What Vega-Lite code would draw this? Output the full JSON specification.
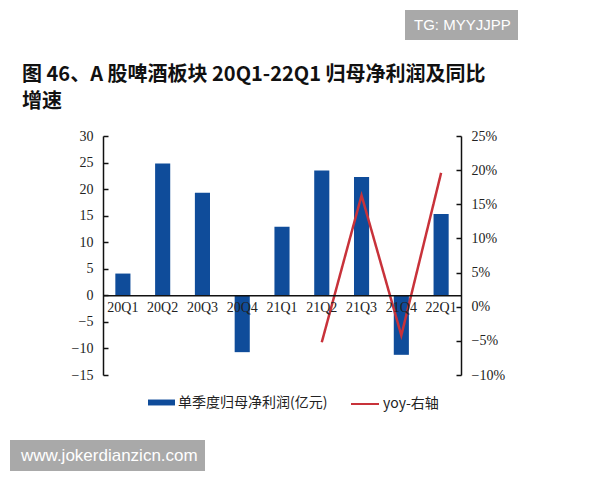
{
  "$schema": "https://vega.github.io/schema/vega-lite/v6.json",
  "autosize": "none",
  "width": 358,
  "height": 239,
  "padding": {"left": 103, "top": 136, "right": 139, "bottom": 105},
  "background": "white",
  "title": {
    "text": ["图 46、A 股啤酒板块 20Q1-22Q1 归母净利润及同比", "增速"],
    "anchor": "start",
    "frame": "group",
    "dx": -81,
    "dy": 120,
    "offset": 18,
    "font": "Noto Sans CJK SC",
    "fontSize": 20,
    "fontWeight": "bold",
    "lineHeight": 27,
    "color": "#111111"
  },
  "data": {
    "values": [
      {"quarter": "20Q1", "profit": 4.1, "yoy": null},
      {"quarter": "20Q2", "profit": 24.8, "yoy": null},
      {"quarter": "20Q3", "profit": 19.3, "yoy": null},
      {"quarter": "20Q4", "profit": -10.7, "yoy": null},
      {"quarter": "21Q1", "profit": 12.9, "yoy": null},
      {"quarter": "21Q2", "profit": 23.5, "yoy": -0.052},
      {"quarter": "21Q3", "profit": 22.3, "yoy": 0.163},
      {"quarter": "21Q4", "profit": -11.2, "yoy": -0.042},
      {"quarter": "22Q1", "profit": 15.3, "yoy": 0.196}
    ]
  },
  "encoding": {
    "x": {
      "field": "quarter",
      "type": "ordinal",
      "sort": null,
      "scale": {"paddingInner": 0, "paddingOuter": 0},
      "axis": {
        "title": null,
        "offset": -79.7,
        "zindex": 1,
        "labelAngle": 0,
        "labelFont": "Liberation Serif",
        "labelFontSize": 14,
        "labelColor": "#222222",
        "labelPadding": 5,
        "ticks": false,
        "domainColor": "#111111",
        "domainWidth": 1.5
      }
    }
  },
  "layer": [
    {
      "mark": {"type": "bar", "width": {"band": 0.38}},
      "encoding": {
        "y": {
          "field": "profit",
          "type": "quantitative",
          "scale": {"domain": [-15, 30], "nice": false},
          "axis": {
            "title": null,
            "values": [-15, -10, -5, 0, 5, 10, 15, 20, 25, 30],
            "grid": false,
            "labelFont": "Liberation Serif",
            "labelFontSize": 14,
            "labelColor": "#222222",
            "labelPadding": 15,
            "tickSize": -5,
            "tickColor": "#111111",
            "tickWidth": 1.5,
            "domainColor": "#111111",
            "domainWidth": 1.5
          }
        },
        "fill": {
          "datum": "单季度归母净利润(亿元)",
          "scale": {"range": ["#0f4c9a"]},
          "legend": {
            "title": null,
            "orient": "none",
            "legendX": 45,
            "legendY": 253,
            "symbolType": "M-1,-0.22H1V0.22H-1Z",
            "symbolSize": 729,
            "symbolStrokeWidth": 0,
            "labelFont": "Noto Sans CJK SC",
            "labelFontSize": 14,
            "labelColor": "#222222",
            "labelOffset": 3
          }
        },
        "opacity": {
          "datum": "www.jokerdianzicn.com",
          "scale": {"range": [1]},
          "legend": {
            "title": null,
            "orient": "none",
            "legendX": -93,
            "legendY": 304,
            "fillColor": "#a9a9a9",
            "padding": 7,
            "cornerRadius": 0,
            "symbolSize": 0,
            "symbolOpacity": 0,
            "symbolStrokeWidth": 0,
            "labelOffset": -13,
            "labelLimit": 400,
            "labelFont": "Liberation Sans",
            "labelFontSize": 17,
            "labelColor": "white"
          }
        }
      }
    },
    {
      "mark": {"type": "line", "strokeWidth": 2.5, "interpolate": "linear"},
      "transform": [{"filter": "datum.yoy != null"}],
      "encoding": {
        "y": {
          "field": "yoy",
          "type": "quantitative",
          "scale": {"domain": [-0.1, 0.25], "nice": false, "zero": false},
          "axis": {
            "title": null,
            "orient": "right",
            "values": [-0.1, -0.05, 0, 0.05, 0.1, 0.15, 0.2, 0.25],
            "format": ".0%",
            "grid": false,
            "labelFont": "Liberation Serif",
            "labelFontSize": 14,
            "labelColor": "#222222",
            "labelPadding": 15,
            "tickSize": -5,
            "tickColor": "#111111",
            "tickWidth": 1.5,
            "domainColor": "#111111",
            "domainWidth": 1.5
          }
        },
        "stroke": {
          "datum": "yoy-右轴",
          "scale": {"range": ["#c8323a"]},
          "legend": {
            "title": null,
            "orient": "none",
            "legendX": 247,
            "legendY": 253,
            "symbolType": "stroke",
            "symbolSize": 784,
            "symbolStrokeWidth": 2,
            "labelFont": "Noto Sans CJK SC",
            "labelFontSize": 14,
            "labelColor": "#222222",
            "labelOffset": 3
          }
        },
        "strokeDash": {
          "datum": "TG: MYYJJPP",
          "scale": {"range": [[1, 0]]},
          "legend": {
            "title": null,
            "orient": "none",
            "legendX": 302,
            "legendY": -126,
            "fillColor": "#a9a9a9",
            "padding": 7,
            "cornerRadius": 0,
            "symbolSize": 0,
            "symbolOpacity": 0,
            "symbolStrokeWidth": 0,
            "labelOffset": -13,
            "labelLimit": 400,
            "labelFont": "Liberation Sans",
            "labelFontSize": 15,
            "labelColor": "white"
          }
        }
      }
    }
  ],
  "resolve": {"scale": {"y": "independent"}},
  "config": {"view": {"stroke": null}}
}
